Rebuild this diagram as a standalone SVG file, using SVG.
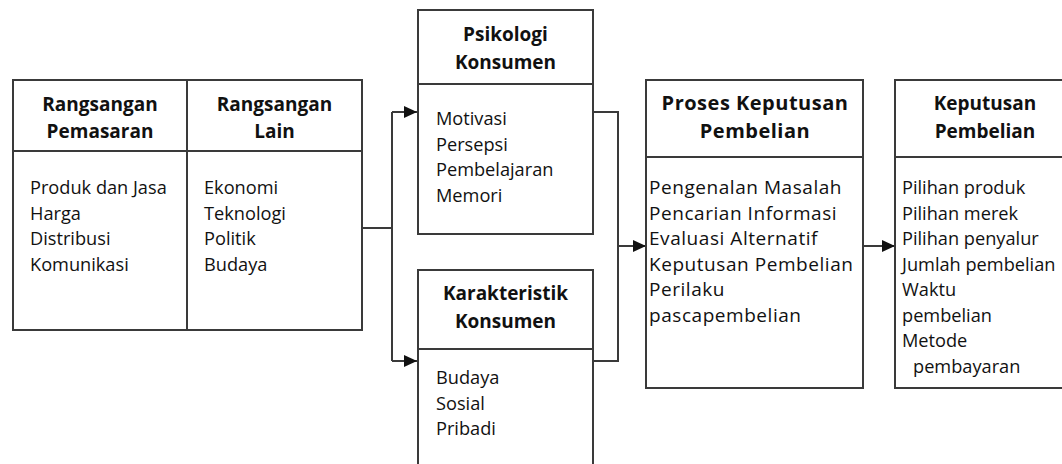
<svg xmlns="http://www.w3.org/2000/svg" width="1062" height="464" viewBox="0 0 1062 464">
<style>
.box{fill:#fff;stroke:#3a3a3a;stroke-width:2}
.ln{fill:none;stroke:#3a3a3a;stroke-width:2}
.h{font-family:"Open Sans","Liberation Sans",sans-serif;font-weight:700;font-size:19px;fill:#111;text-anchor:middle}
.t{font-family:"Open Sans","Liberation Sans",sans-serif;font-size:18.2px;fill:#111}
.hp{font-size:20px;letter-spacing:0.5px}
.tp{font-size:19px;letter-spacing:0.55px}
</style>
<defs>
<marker id="ah" markerUnits="userSpaceOnUse" markerWidth="14" markerHeight="12" refX="13" refY="6" orient="auto">
<path d="M0,0 L13,6 L0,12 Z" fill="#111"/>
</marker>
</defs>
<rect width="1062" height="464" fill="#fff"/>
<g id="connectors">
<path class="ln" d="M362,228 H392"/>
<path class="ln" d="M392,112 V361"/>
<path class="ln" d="M392,112 H417" marker-end="url(#ah)"/>
<path class="ln" d="M392,361 H417" marker-end="url(#ah)"/>
<path class="ln" d="M593,112 H618 V361 H593"/>
<path class="ln" d="M618,246 H646" marker-end="url(#ah)"/>
<path class="ln" d="M863,246 H895" marker-end="url(#ah)"/>
</g>
<g id="rangsangan">
<rect class="box" x="13" y="80" width="349" height="250"/>
<path class="ln" d="M13,151 H362 M187,80 V330"/>
<text class="h" x="100" y="111">Rangsangan</text>
<text class="h" x="100" y="138">Pemasaran</text>
<text class="h" x="274.5" y="111">Rangsangan</text>
<text class="h" x="274.5" y="138">Lain</text>
<text class="t" x="30" y="194">Produk dan Jasa</text>
<text class="t" x="30" y="219.5">Harga</text>
<text class="t" x="30" y="245">Distribusi</text>
<text class="t" x="30" y="270.5">Komunikasi</text>
<text class="t" x="204" y="194">Ekonomi</text>
<text class="t" x="204" y="219.5">Teknologi</text>
<text class="t" x="204" y="245">Politik</text>
<text class="t" x="204" y="270.5">Budaya</text>
</g>
<g id="psikologi">
<rect class="box" x="418" y="10" width="175" height="224"/>
<path class="ln" d="M418,84 H593"/>
<text class="h" x="505.5" y="41">Psikologi</text>
<text class="h" x="505.5" y="69">Konsumen</text>
<text class="t" x="436" y="125">Motivasi</text>
<text class="t" x="436" y="150.5">Persepsi</text>
<text class="t" x="436" y="176">Pembelajaran</text>
<text class="t" x="436" y="201.5">Memori</text>
</g>
<g id="karakteristik">
<rect class="box" x="418" y="270" width="175" height="200"/>
<path class="ln" d="M418,349 H593"/>
<text class="h" x="505.5" y="300">Karakteristik</text>
<text class="h" x="505.5" y="328">Konsumen</text>
<text class="t" x="436" y="384">Budaya</text>
<text class="t" x="436" y="409.5">Sosial</text>
<text class="t" x="436" y="435">Pribadi</text>
</g>
<g id="proses">
<rect class="box" x="646" y="80" width="217" height="308"/>
<path class="ln" d="M646,157 H863"/>
<text class="h hp" x="755" y="110">Proses Keputusan</text>
<text class="h hp" x="755" y="138">Pembelian</text>
<text class="t tp" x="649" y="194">Pengenalan Masalah</text>
<text class="t tp" x="649" y="219.5">Pencarian Informasi</text>
<text class="t tp" x="649" y="245">Evaluasi Alternatif</text>
<text class="t tp" x="649" y="270.5">Keputusan Pembelian</text>
<text class="t tp" x="649" y="296">Perilaku</text>
<text class="t tp" x="649" y="321.5">pascapembelian</text>
</g>
<g id="keputusan">
<rect class="box" x="895" y="80" width="180" height="308"/>
<path class="ln" d="M895,157 H1075"/>
<text class="h" x="985" y="110">Keputusan</text>
<text class="h" x="985" y="138">Pembelian</text>
<text class="t" x="902" y="194">Pilihan produk</text>
<text class="t" x="902" y="219.5">Pilihan merek</text>
<text class="t" x="902" y="245">Pilihan penyalur</text>
<text class="t" x="902" y="270.5">Jumlah pembelian</text>
<text class="t" x="902" y="296">Waktu</text>
<text class="t" x="902" y="321.5">pembelian</text>
<text class="t" x="902" y="347">Metode</text>
<text class="t" x="913" y="372.5">pembayaran</text>
</g>
</svg>
